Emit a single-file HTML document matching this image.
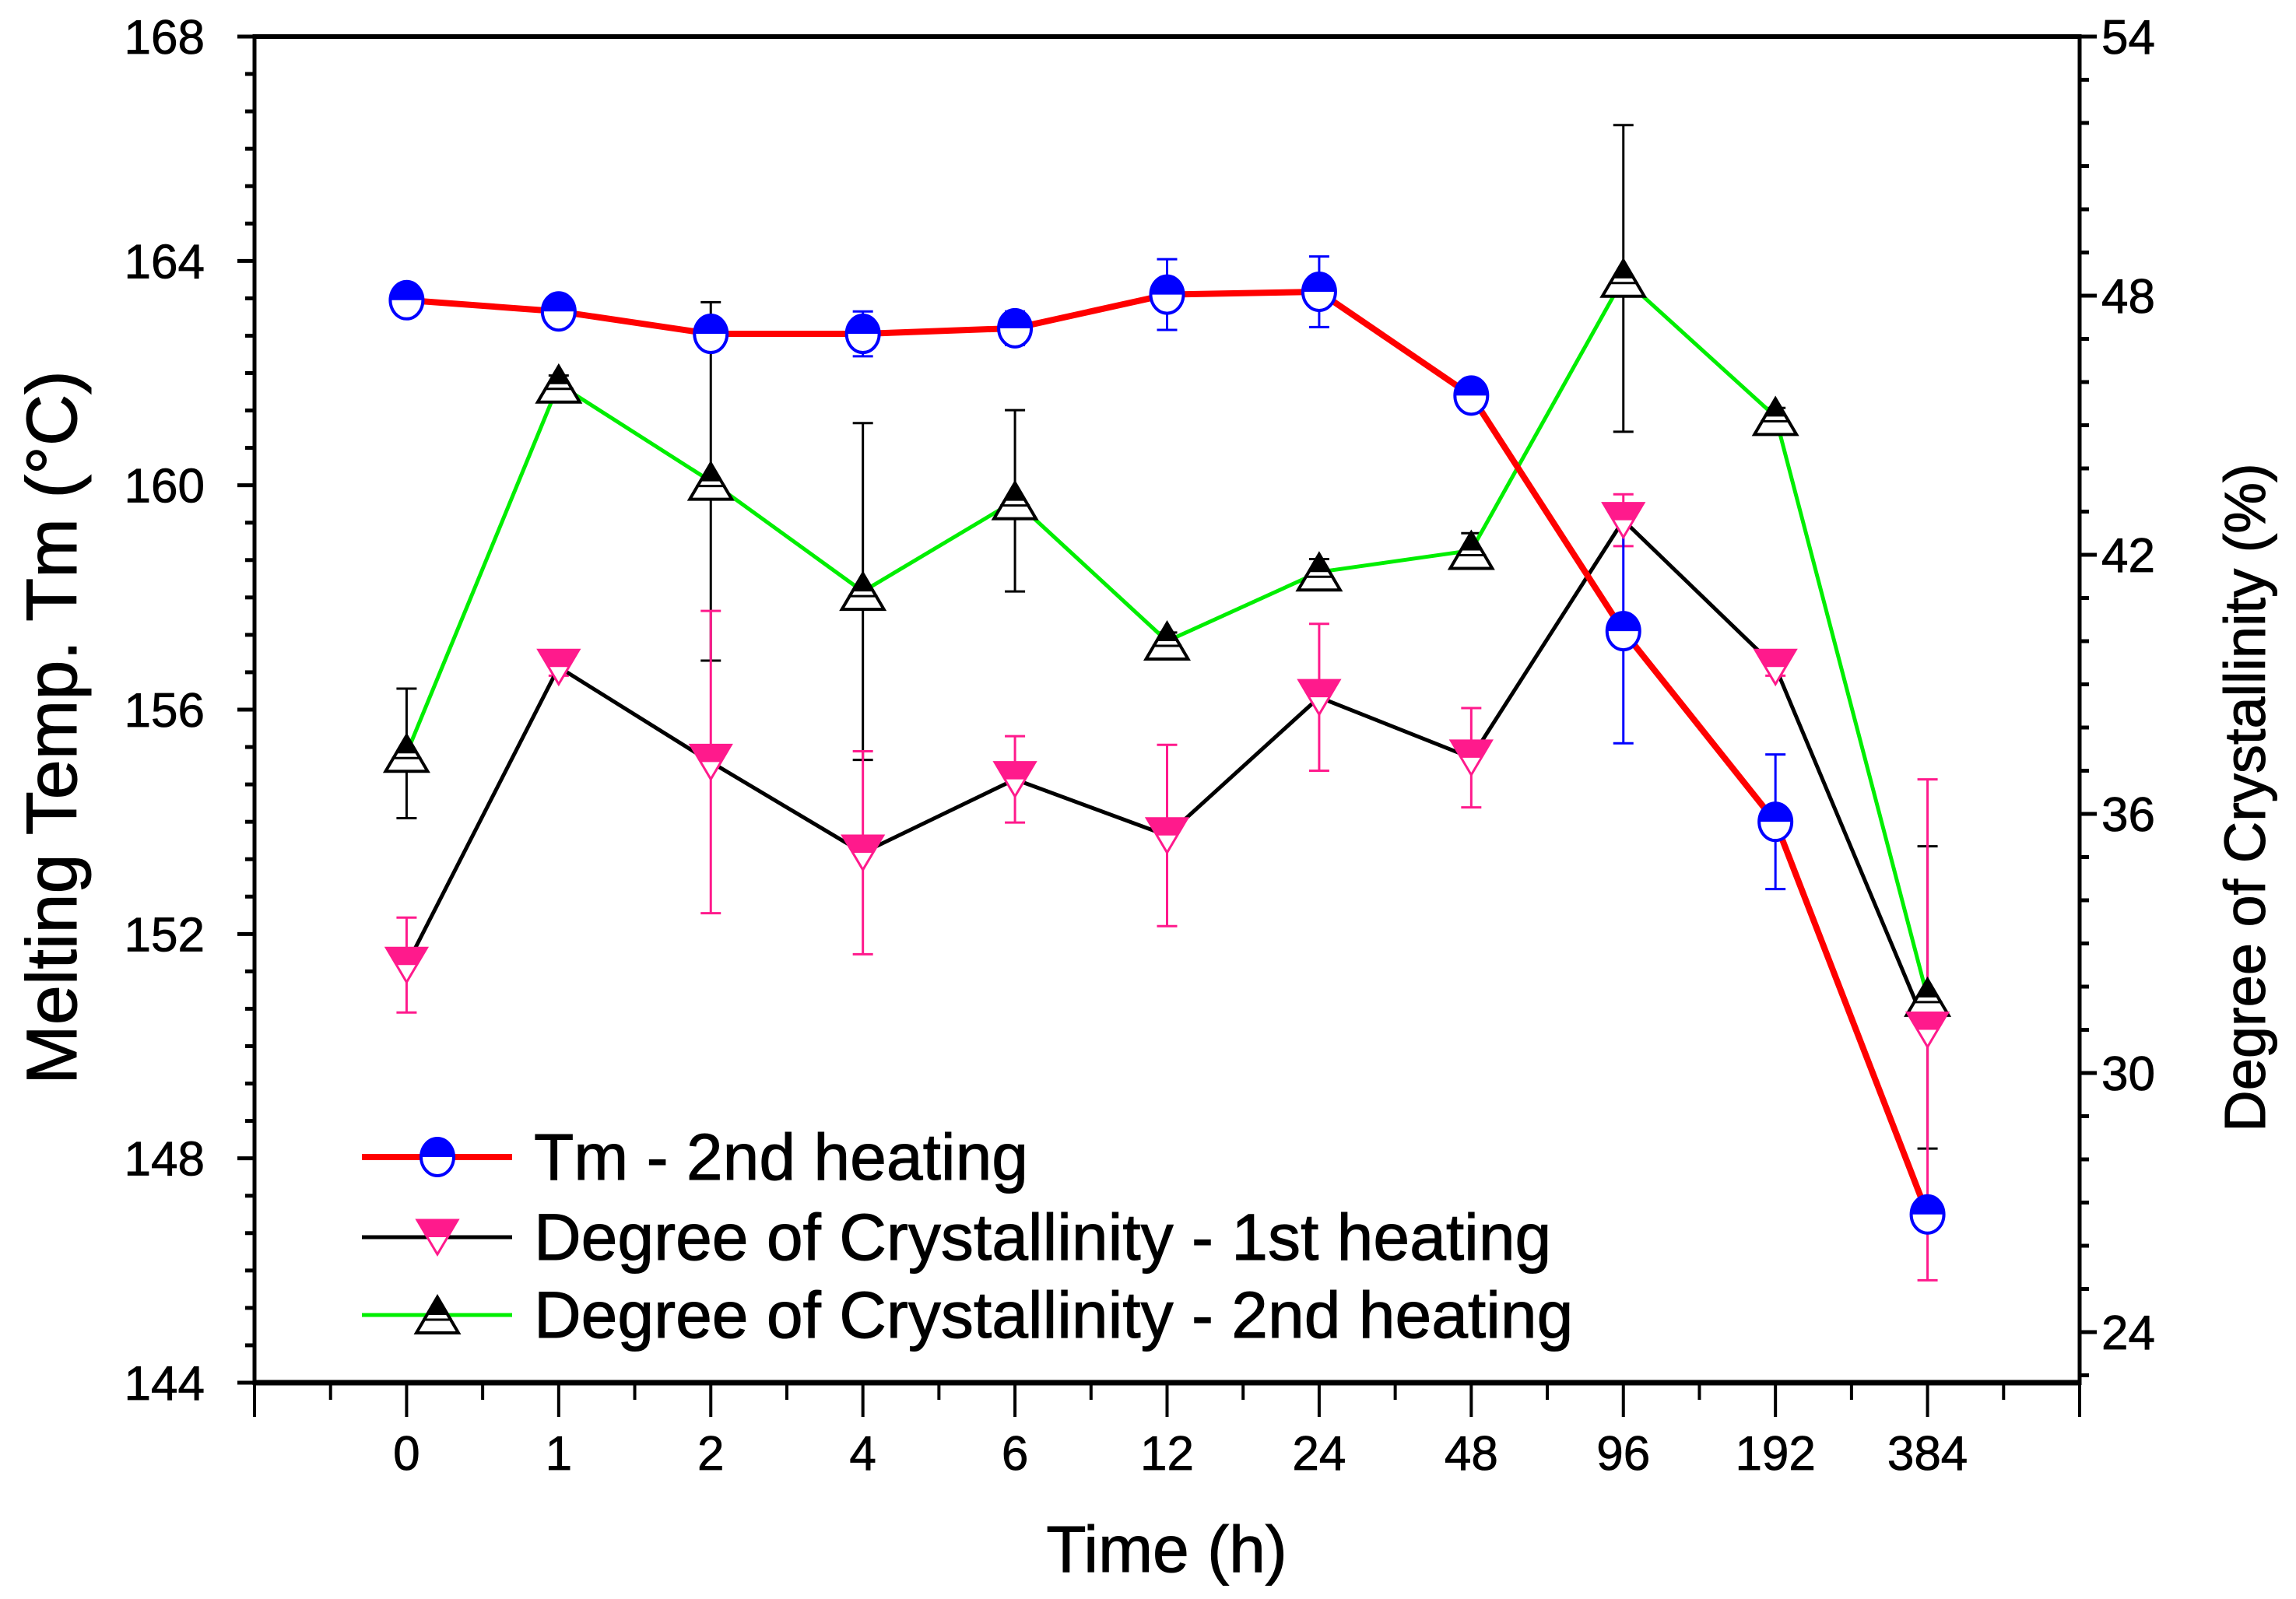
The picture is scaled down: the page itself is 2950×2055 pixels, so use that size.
<!DOCTYPE html>
<html><head><meta charset="utf-8"><style>
html,body{margin:0;padding:0;background:#fff;}
svg{display:block;font-family:"Liberation Sans",Arial,sans-serif;}
</style></head><body>
<svg id="chart" width="2950" height="2055" viewBox="0 0 2950 2055" xmlns="http://www.w3.org/2000/svg">
<rect width="2950" height="2055" fill="#fff"/>
<g id="series"></g>
<g id="axes"></g>
<g id="legend"></g>
<text x="1499" y="2020" font-size="84" text-anchor="middle" stroke="#000" stroke-width="1">Time (h)</text>
<text x="0" y="0" font-size="92" text-anchor="middle" stroke="#000" stroke-width="1" transform="translate(98,935) rotate(-90)">Melting Temp. Tm (°C)</text>
<text x="0" y="0" font-size="74" text-anchor="middle" stroke="#000" stroke-width="1" transform="translate(2910,1025) rotate(-90)">Degree of Crystallinity (%)</text>
</svg>
<script>
const categories = ['0','1','2','4','6','12','24','48','96','192','384'];
const tmValues = [163.3,163.1,162.7,162.7,162.8,163.4,163.45,161.6,157.4,154.0,147.0];
const tmErrors = [0.1,0.15,0.2,0.4,0.3,0.63,0.63,0.1,2.0,1.2,0.1];
const dc1Values = [32.5,39.4,37.2,35.1,36.8,35.5,38.7,37.3,42.8,39.4,31.0];
const dc1Errors = [1.1,0.2,3.5,2.35,1.0,2.1,1.7,1.15,0.6,0.2,5.8];
const dc2Values = [37.4,45.95,43.7,41.15,43.25,40.0,41.6,42.1,48.4,45.2,31.75];
const dc2Errors = [1.5,0.2,4.15,3.9,2.1,0.2,0.3,0.4,3.55,0.2,3.5];
const leftTicks = [144,148,152,156,160,164,168];
const rightTicks = [24,30,36,42,48,54];

const NS='http://www.w3.org/2000/svg';
const L=327,R=2672,T=47,B=1777;
const xs=i=>L+(i+1)*(R-L)/12;
const yl=v=>T+(168-v)*(B-T)/24;
const yr=v=>T+(54-v)*55.5;
function mk(tag,attrs,parent){const e=document.createElementNS(NS,tag);for(const k in attrs)e.setAttribute(k,attrs[k]);parent.appendChild(e);return e;}
const axes=document.getElementById('axes'),series=document.getElementById('series'),legend=document.getElementById('legend');

let e;
e=mk('line',{x1:L,y1:T,x2:R,y2:T,stroke:'#000','stroke-width':6},axes);


e=mk('line',{x1:L,y1:B,x2:R,y2:B,stroke:'#000','stroke-width':7},axes);


e=mk('line',{x1:L,y1:T-3,x2:L,y2:B+3,stroke:'#000','stroke-width':5},axes);


e=mk('line',{x1:R,y1:T-3,x2:R,y2:B+3,stroke:'#000','stroke-width':5},axes);



for(let v=144;v<=168.001;v+=4/6){const y=yl(v);const major=Math.abs(v-Math.round(v/4)*4)<0.01;
 e=mk('line',{x1:L-(major?22:12),y1:y,x2:L,y2:y,stroke:'#000','stroke-width':5},axes);
 
 }
leftTicks.forEach(v=>{e=mk('text',{x:L-64,y:yl(v)+22,'font-size':62,'text-anchor':'end',stroke:'#000','stroke-width':0.8},axes);e.textContent=v;
 
 });
for(let v=23;v<=54;v++){const y=yr(v);const major=v%6===0;
 e=mk('line',{x1:R,y1:y,x2:R+(major?22:12),y2:y,stroke:'#000','stroke-width':5},axes);
 
 }
rightTicks.forEach(v=>{e=mk('text',{x:R+28,y:yr(v)+22,'font-size':62,'text-anchor':'start',stroke:'#000','stroke-width':0.8},axes);e.textContent=v;
 
 });
for(let i=-1;i<=11;i+=0.5){const x=xs(i);const major=Number.isInteger(i);
 e=mk('line',{x1:x,y1:B,x2:x,y2:B+(major?44:22),stroke:'#000','stroke-width':4},axes);
 
 }
categories.forEach((c,i)=>{e=mk('text',{x:xs(i),y:1889,'font-size':62,'text-anchor':'middle',stroke:'#000','stroke-width':0.8},axes);e.textContent=c;
 
 });

function errbar(x,y1,y2,color,name){
 const g=mk('g',{stroke:color,'stroke-width':3},series);
 
 
 mk('line',{x1:x,y1:y1,x2:x,y2:y2},g);
 mk('line',{x1:x-13,y1:y1,x2:x+13,y2:y1},g);
 mk('line',{x1:x-13,y1:y2,x2:x+13,y2:y2},g);
}
function poly(pts,color,w,name){e=mk('polyline',{points:pts.join(' '),fill:'none',stroke:color,'stroke-width':w,'stroke-linejoin':'round'},series);
 
 }
function circle(x,y,parent,name){const g=mk('g',{},parent);
 
 
 const r=21;
 mk('ellipse',{cx:x,cy:y,rx:r,ry:r+3,fill:'#fff',stroke:'#0000ff','stroke-width':4},g);
 mk('path',{d:`M${x-r},${y} A${r},${r+3} 0 0 1 ${x+r},${y} Z`,fill:'#0000ff'},g);}
function downTri(x,y,parent,name){const g=mk('g',{},parent);
 
 
 const h=44,w=26;
 mk('polygon',{points:`${x-w},${y-h/2} ${x+w},${y-h/2} ${x},${y+h/2}`,fill:'#fff',stroke:'#ff1a8c','stroke-width':3},g);
 mk('polygon',{points:`${x-w},${y-h/2} ${x+w},${y-h/2} ${x+w/2},${y} ${x-w/2},${y}`,fill:'#ff1a8c'},g);}
function upTri(x,y,parent,name){const g=mk('g',{},parent);
 
 
 const h=46,w=27;
 mk('polygon',{points:`${x-w},${y+h/2} ${x+w},${y+h/2} ${x},${y-h/2}`,fill:'#fff',stroke:'#000','stroke-width':4},g);
 mk('polygon',{points:`${x},${y-h/2} ${x+w/2},${y} ${x-w/2},${y}`,fill:'#000'},g);
 mk('line',{x1:x-w*0.7,y1:y+6,x2:x+w*0.7,y2:y+6,stroke:'#000','stroke-width':3},g);}

dc2Values.forEach((v,i)=>errbar(xs(i),yr(v+dc2Errors[i]),yr(v-dc2Errors[i]),'#000','dc2-error-bar'));
dc1Values.forEach((v,i)=>errbar(xs(i),yr(v+dc1Errors[i]),yr(v-dc1Errors[i]),'#ff1a8c','dc1-error-bar'));
tmValues.forEach((v,i)=>errbar(xs(i),yl(v+tmErrors[i]),yl(v-tmErrors[i]),'#0000ff','tm-error-bar'));
poly(dc2Values.map((v,i)=>xs(i)+','+yr(v)),'#00ee00',5,'dc2-line');
poly(dc1Values.map((v,i)=>xs(i)+','+yr(v)),'#000',5,'dc1-line');
poly(tmValues.map((v,i)=>xs(i)+','+yl(v)),'#ff0000',8,'tm-line');
dc2Values.forEach((v,i)=>upTri(xs(i),yr(v),series,'dc2-point'));
dc1Values.forEach((v,i)=>downTri(xs(i),yr(v),series,'dc1-point'));
tmValues.forEach((v,i)=>circle(xs(i),yl(v),series,'tm-point'));

const leg=[['Tm - 2nd heating','#ff0000',8,circle],['Degree of Crystallinity - 1st heating','#000',5,downTri],['Degree of Crystallinity - 2nd heating','#00ee00',5,upTri]];
const legY=[1487,1590,1690];
leg.forEach((l,k)=>{const g=mk('g',{},legend);
 
 
 mk('line',{x1:465,y1:legY[k],x2:658,y2:legY[k],stroke:l[1],'stroke-width':l[2]},g);
 l[3](562,legY[k],g,'legend-marker');
 const t=mk('text',{x:686,y:legY[k]+29,'font-size':84,stroke:'#000','stroke-width':1},g);t.textContent=l[0];});
</script>
</body></html>
